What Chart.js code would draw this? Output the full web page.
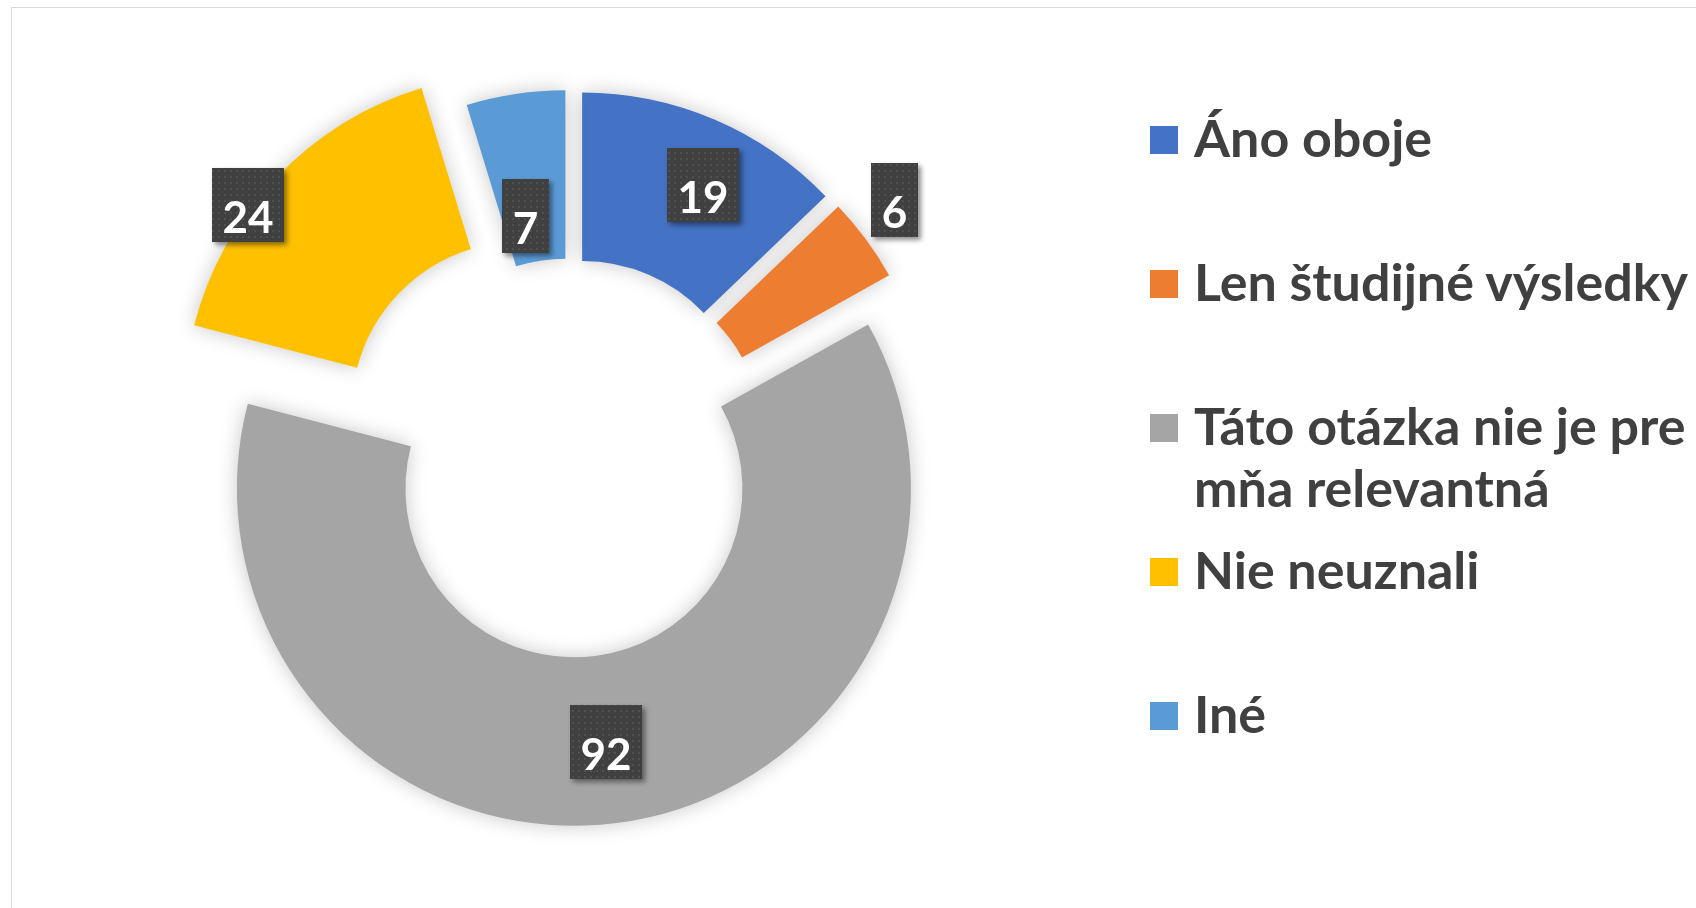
<!DOCTYPE html>
<html>
<head>
<meta charset="utf-8">
<script src="https://cdn.jsdelivr.net/npm/chart.js@4.4.1/dist/chart.umd.min.js"></script>
<style>
  html, body { margin: 0; padding: 0; background: #fff; }
  #obal { position: relative; width: 1696px; height: 908px; overflow: hidden; }
  #ramik { position: absolute; left: 11px; top: 7px; width: 1720px; height: 940px; border: 1px solid #d9d9d9; box-sizing: border-box; }
  #graf { position: absolute; left: 0; top: 0; }
  #legenda { position: absolute; left: 0; top: 0; font-family: Lato, sans-serif; font-weight: 700; color: #404040; }
  .stvorec { position: absolute; left: 1150px; width: 28px; height: 28px; }
  .text { position: absolute; left: 1194px; font-size: 52px; line-height: 62px; white-space: pre; }
</style>
</head>
<body>
<div id="obal">
  <div id="ramik"></div>
  <canvas id="graf" width="1696" height="908"></canvas>
  <div id="legenda"></div>
</div>
<script>
// --- DATA ---
const kategorie = ['Áno oboje', 'Len študijné výsledky', 'Táto otázka nie je pre\nmňa relevantná', 'Nie neuznali', 'Iné'];
const pocty = [19, 6, 92, 24, 7];
const farby = ['#4472C4', '#ED7D31', '#A5A5A5', '#FFC000', '#5B9BD5'];

// vysunutie dielikov (px) a umiestnenie stitkov voci dieliku
const odsun = [31, 31, 31, 69, 31];
const stitokPolomer = [0.809, 1.137, 0.759, 1.012, 0.638];
const stitokOtoc = [3.1, -2.2, 0, -6.8, -2.2];

// --- LEGENDA (HTML) ---
const legenda = document.getElementById('legenda');
const prvaZakladna = 157;   // baseline prveho riadku
const krok = 144;
kategorie.forEach((nazov, i) => {
    const zakladna = prvaZakladna + i * krok;
    const q = document.createElement('div');
    q.className = 'stvorec';
    q.style.top = (zakladna - 31) + 'px';
    q.style.background = farby[i];
    legenda.appendChild(q);
    const t = document.createElement('div');
    t.className = 'text';
    t.style.top = (zakladna - 51) + 'px';
    t.textContent = nazov;
    legenda.appendChild(t);
});

// --- PLUGINY ---
const vybuch = {
    id: 'vybuch',
    afterDatasetUpdate(chart, args) {
        args.meta.data.forEach((obluk, i) => {
            const stred = (obluk.startAngle + obluk.endAngle) / 2;
            obluk.x += Math.cos(stred) * odsun[i];
            obluk.y += Math.sin(stred) * odsun[i];
        });
    }
};

const tien = {
    id: 'tien',
    beforeDatasetDraw(chart) {
        const c = chart.ctx;
        c.save();
        c.shadowColor = 'rgba(0,0,0,0.22)';
        c.shadowBlur = 20;
    },
    afterDatasetDraw(chart) {
        chart.ctx.restore();
    }
};

function vytvorVzor(ctx) {
    const p = document.createElement('canvas');
    p.width = 6; p.height = 6;
    const g = p.getContext('2d');
    g.fillStyle = '#404040';
    g.fillRect(0, 0, 6, 6);
    g.fillStyle = '#505050';
    g.fillRect(2, 2, 2, 2);
    return ctx.createPattern(p, 'repeat');
}

const stitky = {
    id: 'stitky',
    afterDatasetsDraw(chart) {
        const c = chart.ctx;
        const vzor = vytvorVzor(c);
        chart.getDatasetMeta(0).data.forEach((obluk, i) => {
            const uhol = (obluk.startAngle + obluk.endAngle) / 2 + stitokOtoc[i] * Math.PI / 180;
            const r = obluk.outerRadius * stitokPolomer[i];
            const x = obluk.x + Math.cos(uhol) * r;
            const y = obluk.y + Math.sin(uhol) * r;
            const text = String(pocty[i]);
            c.save();
            c.font = 'bold 44px Lato';
            const sirka = Math.round(c.measureText(text).width + 21);
            const vyska = 74;
            const lx = Math.round(x - sirka / 2), ly = Math.round(y - vyska / 2);
            c.shadowColor = 'rgba(0,0,0,0.45)';
            c.shadowBlur = 5;
            c.shadowOffsetX = 3;
            c.shadowOffsetY = 3;
            c.fillStyle = '#404040';
            c.fillRect(lx, ly, sirka, vyska);
            c.shadowColor = 'transparent';
            c.fillStyle = vzor;
            c.fillRect(lx, ly, sirka, vyska);
            c.fillStyle = '#ffffff';
            c.textAlign = 'center';
            c.textBaseline = 'alphabetic';
            c.fillText(text, lx + sirka / 2, ly + vyska - 9);
            c.restore();
        });
    }
};

// --- GRAF ---
const ctx = document.getElementById('graf').getContext('2d');
new Chart(ctx, {
    type: 'doughnut',
    data: {
        labels: kategorie,
        datasets: [{
            data: pocty,
            backgroundColor: farby,
            borderWidth: 0
        }]
    },
    options: {
        responsive: false,
        devicePixelRatio: 1,
        animation: false,
        events: [],
        cutout: '50%',
        layout: {
            padding: { left: 233, top: 121, right: 789, bottom: 113 }
        },
        plugins: {
            legend: { display: false },
            tooltip: { enabled: false }
        }
    },
    plugins: [vybuch, tien, stitky]
});
</script>
</body>
</html>
